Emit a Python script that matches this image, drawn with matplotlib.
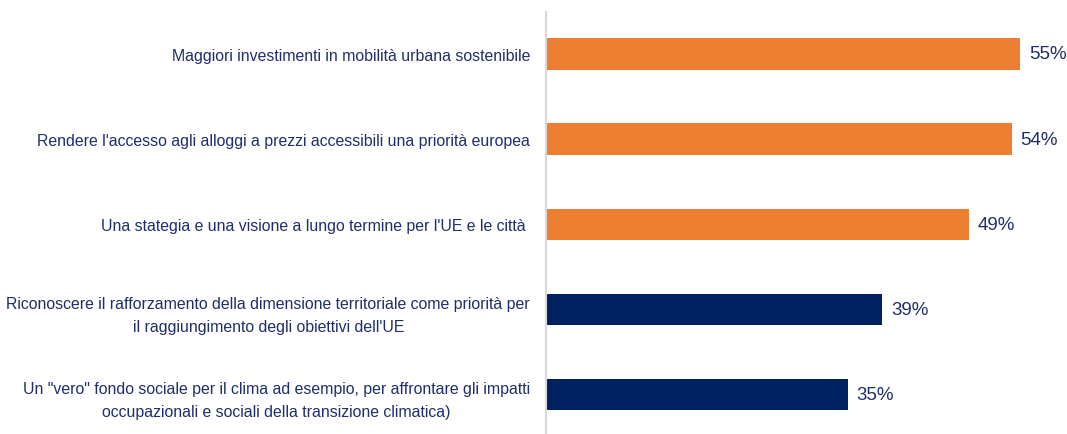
import matplotlib
matplotlib.use("Agg")
import matplotlib.pyplot as plt

labels = [
    "Maggiori investimenti in mobilità urbana sostenibile",
    "Rendere l'accesso agli alloggi a prezzi accessibili una priorità europea",
    "Una stategia e una visione a lungo termine per l'UE e le città ",
    "Riconoscere il rafforzamento della dimensione territoriale come priorità per\nil raggiungimento degli obiettivi dell'UE",
    "Un \"vero\" fondo sociale per il clima ad esempio, per affrontare gli impatti\noccupazionali e sociali della transizione climatica)",
]
values = [55, 54, 49, 39, 35]
colors = ["#ED7D31", "#ED7D31", "#ED7D31", "#002060", "#002060"]

text_color = "#1F2F6B"
fam = ["Liberation Sans Narrow", "Liberation Sans", "DejaVu Sans"]

fig = plt.figure(figsize=(10.67, 4.35), dpi=100)
ax = fig.add_axes([546 / 1067, 0, 521 / 1067, 422 / 435])

y = list(range(len(values)))
ax.barh(y, values, height=0.365, color=colors)
ax.set_xlim(0, 60.4)
ax.set_ylim(4.47, -0.494)

ax.set_yticks(y)
ax.set_yticklabels(labels, fontsize=11.4, color=text_color, family=fam)
for t in ax.get_yticklabels():
    t.set_multialignment("center")
    t.set_linespacing(1.7)
ax.tick_params(axis="y", length=0, pad=11.5)
ax.set_xticks([])

for i, v in enumerate(values):
    ax.text(v + 1.0, i, f"{v}%", va="center", ha="left", fontsize=13.5,
            color=text_color, family=fam)

for s in ["top", "right", "bottom"]:
    ax.spines[s].set_visible(False)
ax.spines["left"].set_color("#D9D9D9")
ax.spines["left"].set_linewidth(1.5)

fig.savefig("out.png", dpi=100)
